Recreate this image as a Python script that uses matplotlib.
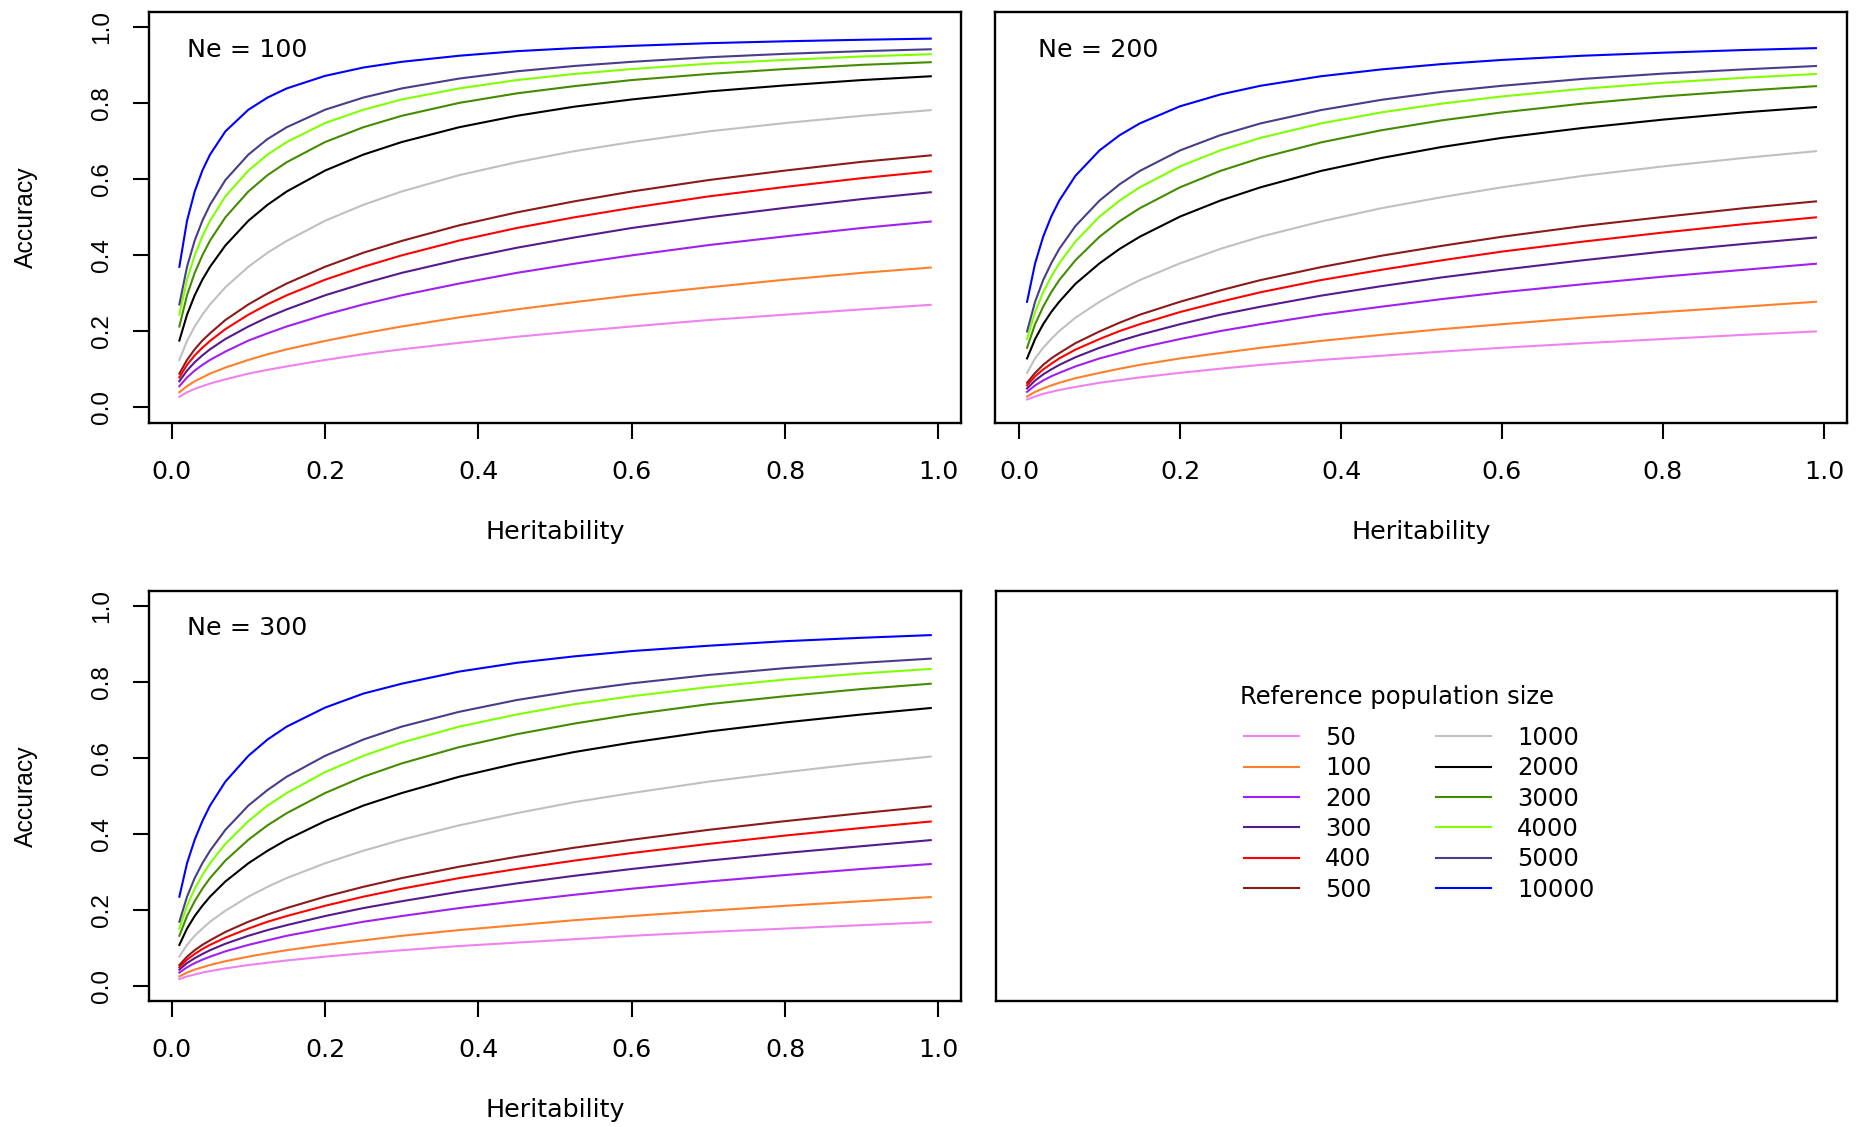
import matplotlib
matplotlib.use("Agg")
import matplotlib.pyplot as plt

# ---------------- data ----------------
heritability = [0.01, 0.02, 0.03, 0.04, 0.05, 0.07, 0.10, 0.125, 0.15, 0.20,
                0.25, 0.30, 0.375, 0.45, 0.525, 0.60, 0.70, 0.80, 0.90, 0.99]

ref_sizes = [50, 100, 200, 300, 400, 500, 1000, 2000, 3000, 4000, 5000, 10000]

line_colors = ["#EE82EE", "#FF7F2A", "#A020F0", "#551A8B", "#FF0000", "#8B1A1A",
               "#C0C0C0", "#000000", "#458B00", "#7FFF00", "#483D8B", "#0000FF"]

panel_titles = ["Ne = 100", "Ne = 200", "Ne = 300"]

acc_ne100 = {
    50:    [.028, .040, .049, .056, .063, .074, .089, .099, .108, .125, .140, .153, .170, .186, .200, .213, .230, .244, .258, .270],
    100:   [.040, .056, .069, .079, .089, .105, .125, .140, .153, .175, .195, .213, .237, .258, .277, .295, .316, .336, .354, .368],
    200:   [.056, .079, .097, .112, .125, .147, .176, .195, .213, .244, .271, .295, .326, .354, .378, .400, .427, .450, .472, .489],
    300:   [.069, .097, .119, .137, .153, .180, .213, .237, .258, .295, .326, .354, .389, .420, .447, .472, .500, .525, .548, .566],
    400:   [.079, .112, .137, .157, .175, .206, .244, .271, .295, .336, .370, .400, .439, .472, .500, .525, .555, .580, .603, .621],
    500:   [.089, .125, .153, .176, .195, .230, .271, .300, .326, .370, .407, .438, .479, .513, .542, .568, .598, .623, .646, .663],
    1000:  [.125, .175, .213, .244, .271, .316, .370, .407, .438, .491, .533, .568, .611, .645, .674, .698, .726, .748, .767, .782],
    2000:  [.176, .244, .295, .336, .370, .426, .491, .533, .568, .623, .665, .698, .737, .767, .791, .810, .831, .847, .861, .871],
    3000:  [.213, .295, .354, .400, .439, .500, .568, .611, .645, .698, .737, .767, .801, .826, .845, .861, .877, .890, .901, .908],
    4000:  [.244, .336, .400, .450, .491, .555, .623, .665, .698, .748, .783, .810, .839, .861, .877, .890, .904, .914, .923, .929],
    5000:  [.271, .370, .439, .491, .533, .598, .665, .706, .737, .783, .815, .839, .865, .884, .898, .909, .921, .930, .937, .942],
    10000: [.370, .491, .568, .623, .665, .726, .783, .815, .839, .872, .894, .909, .925, .937, .945, .951, .958, .963, .967, .970],
}

acc_ne200 = {
    50:    [.021, .029, .036, .041, .046, .054, .065, .072, .079, .091, .102, .112, .125, .136, .147, .157, .169, .180, .191, .200],
    100:   [.029, .041, .050, .058, .065, .077, .091, .102, .112, .129, .143, .157, .175, .191, .206, .219, .236, .251, .265, .278],
    200:   [.041, .058, .071, .082, .091, .108, .129, .143, .157, .180, .201, .219, .244, .265, .285, .303, .324, .344, .362, .378],
    300:   [.050, .071, .087, .100, .112, .132, .157, .175, .191, .219, .244, .265, .294, .319, .342, .362, .387, .410, .430, .447],
    400:   [.058, .082, .100, .115, .129, .152, .180, .201, .219, .251, .278, .303, .335, .362, .387, .410, .436, .460, .482, .500],
    500:   [.065, .091, .112, .129, .143, .169, .200, .223, .244, .278, .308, .335, .369, .399, .425, .449, .477, .501, .524, .542],
    1000:  [.091, .129, .157, .180, .201, .236, .278, .308, .335, .379, .417, .449, .489, .524, .553, .579, .609, .634, .656, .674],
    2000:  [.129, .180, .219, .251, .278, .325, .379, .417, .449, .502, .544, .579, .622, .656, .685, .709, .735, .757, .776, .790],
    3000:  [.157, .219, .265, .303, .335, .387, .449, .490, .524, .579, .622, .656, .697, .729, .755, .776, .799, .818, .833, .845],
    4000:  [.180, .251, .303, .344, .379, .436, .502, .544, .579, .634, .676, .709, .747, .776, .799, .818, .838, .854, .867, .877],
    5000:  [.200, .278, .335, .379, .417, .477, .544, .587, .622, .676, .716, .747, .782, .809, .830, .846, .864, .878, .889, .898],
    10000: [.278, .379, .449, .502, .544, .609, .676, .716, .747, .792, .823, .846, .871, .889, .903, .914, .925, .933, .940, .945],
}

acc_ne300 = {
    50:    [.017, .024, .029, .034, .038, .045, .054, .060, .066, .076, .085, .093, .104, .113, .122, .131, .141, .150, .159, .167],
    100:   [.024, .034, .042, .048, .054, .064, .076, .085, .093, .107, .119, .131, .146, .159, .172, .183, .197, .210, .222, .233],
    200:   [.034, .048, .059, .068, .076, .090, .107, .119, .131, .150, .168, .183, .204, .222, .239, .255, .274, .291, .307, .320],
    300:   [.042, .059, .072, .083, .093, .110, .131, .146, .159, .183, .204, .222, .247, .269, .289, .307, .329, .349, .367, .383],
    400:   [.048, .068, .083, .096, .107, .126, .150, .168, .183, .210, .234, .255, .283, .307, .329, .349, .373, .395, .415, .432],
    500:   [.054, .076, .093, .107, .119, .141, .168, .187, .204, .234, .260, .283, .313, .339, .363, .384, .410, .433, .454, .472],
    1000:  [.076, .107, .131, .150, .168, .197, .234, .260, .283, .322, .355, .384, .422, .454, .483, .507, .537, .562, .585, .603],
    2000:  [.107, .150, .183, .210, .234, .274, .322, .355, .384, .433, .474, .507, .550, .585, .615, .640, .669, .693, .714, .731],
    3000:  [.131, .183, .222, .255, .283, .329, .384, .422, .454, .507, .550, .585, .628, .662, .690, .714, .741, .762, .781, .795],
    4000:  [.150, .210, .255, .291, .322, .373, .433, .474, .507, .562, .605, .640, .682, .714, .741, .762, .786, .806, .822, .834],
    5000:  [.168, .234, .283, .322, .355, .410, .474, .515, .550, .605, .648, .682, .721, .752, .776, .796, .818, .836, .850, .861],
    10000: [.234, .322, .384, .433, .474, .537, .605, .648, .682, .732, .769, .795, .827, .850, .867, .881, .895, .907, .916, .923],
}

tick_values = [0.0, 0.2, 0.4, 0.6, 0.8, 1.0]
tick_labels = ["0.0", "0.2", "0.4", "0.6", "0.8", "1.0"]
legend_title = "Reference population size"

# ---------------- layout ----------------
W, H = 1865, 1127
H_FONT = "DejaVu Sans"       # horizontal text
V_FONT = "Liberation Sans"   # rotated text


def px_box(left, right, top, bottom):
    return [left / W, 1 - bottom / H, (right - left) / W, (bottom - top) / H]


fig = plt.figure(figsize=(W / 100, H / 100), dpi=100)
fig.patch.set_facecolor("white")

boxes = [(149.3, 960.8, 12.0, 422.7),
         (995.5, 1847.5, 12.0, 422.7),
         (149.3, 960.8, 590.7, 1000.7)]
title_pos = [(0.0467, 0.891), (0.0500, 0.891), (0.0467, 0.893)]
show_y = [True, False, True]
datasets = [acc_ne100, acc_ne200, acc_ne300]

first_lines = []
for i, (title, acc, box, tpos, sy) in enumerate(zip(panel_titles, datasets, boxes, title_pos, show_y)):
    ax = fig.add_axes(px_box(*box))
    lines = []
    for n, col in zip(ref_sizes, line_colors):
        ln, = ax.plot(heritability, acc[n], color=col, lw=1.5, label=str(n))
        lines.append(ln)
    if i == 0:
        first_lines = lines
    ax.set_xlim(-0.0292, 1.0292)
    ax.set_ylim(-0.04, 1.04)
    ax.set_xticks(tick_values)
    ax.set_xticklabels(tick_labels, fontfamily=H_FONT, fontsize=18.3)
    ax.tick_params(axis="x", direction="out", length=11.5, width=1.5, pad=15.5)
    if sy:
        ax.set_yticks(tick_values)
        ax.set_yticklabels(tick_labels, fontfamily=V_FONT, fontsize=17.6,
                           rotation=90, va="center")
        ax.tick_params(axis="y", direction="out", length=11.5, width=1.5, pad=14.5)
        ax.set_ylabel("Accuracy", fontfamily=V_FONT, fontsize=17.8)
        ax.yaxis.set_label_coords(-0.137, 0.5)
    else:
        ax.set_yticks([])
    for s in ax.spines.values():
        s.set_linewidth(1.7)
    ax.set_xlabel("Heritability", fontfamily=H_FONT, fontsize=18.3)
    ax.xaxis.set_label_coords(0.5, -0.2374)
    ax.text(tpos[0], tpos[1], title, transform=ax.transAxes, fontfamily=H_FONT,
            fontsize=18.3, ha="left", va="baseline")

# legend panel
ax4 = fig.add_axes(px_box(995.7, 1837.3, 590.7, 1000.7))
ax4.set_xticks([])
ax4.set_yticks([])
for s in ax4.spines.values():
    s.set_linewidth(1.7)

ax4.legend(first_lines, [str(n) for n in ref_sizes], ncol=2, loc="upper left",
           bbox_to_anchor=(1244.3 / W, 1 - 726.0 / H), bbox_transform=fig.transFigure,
           frameon=False, prop={"family": H_FONT, "size": 17.5},
           handlelength=2.26, handletextpad=1.07, columnspacing=2.65,
           labelspacing=0.26, borderpad=0, borderaxespad=0)
fig.text(1239.7 / W, 1 - 704 / H, legend_title, fontfamily=H_FONT, fontsize=17.5,
         ha="left", va="baseline")

fig.savefig("out.png", dpi=100, facecolor="white")
